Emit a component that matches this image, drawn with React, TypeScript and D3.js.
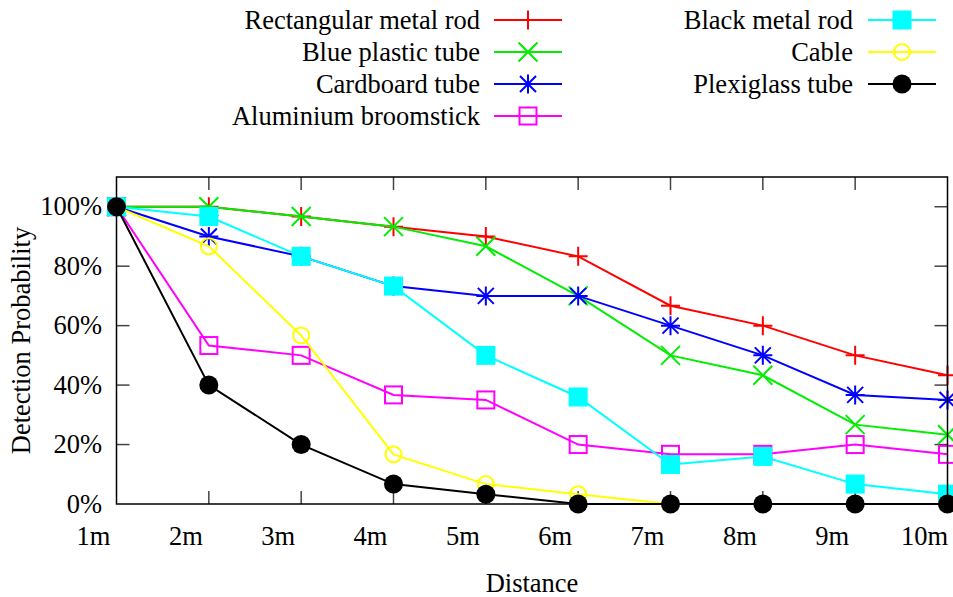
import React from "react";
import * as d3 from "d3";

// Distances (m) at which each object was tested
const distances = [1, 2, 3, 4, 5, 6, 7, 8, 9, 10];
const xTickLabels = ["1m", "2m", "3m", "4m", "5m", "6m", "7m", "8m", "9m", "10m"];
const yTicks = [0, 0.2, 0.4, 0.6, 0.8, 1.0];

// Detection probability per distance
const rectangularMetalRod = [1.0, 1.0, 0.967, 0.933, 0.9, 0.833, 0.667, 0.6, 0.5, 0.433];
const bluePlasticTube = [1.0, 1.0, 0.967, 0.933, 0.867, 0.7, 0.5, 0.433, 0.267, 0.233];
const cardboardTube = [1.0, 0.9, 0.833, 0.733, 0.7, 0.7, 0.6, 0.5, 0.367, 0.35];
const aluminiumBroomstick = [1.0, 0.533, 0.5, 0.367, 0.35, 0.2, 0.167, 0.167, 0.2, 0.167];
const blackMetalRod = [1.0, 0.967, 0.833, 0.733, 0.5, 0.36, 0.133, 0.16, 0.067, 0.033];
const cable = [1.0, 0.867, 0.567, 0.167, 0.067, 0.033, 0, 0, 0, 0];
const plexiglassTube = [1.0, 0.4, 0.2, 0.067, 0.033, 0, 0, 0, 0, 0];

type Marker = "plus" | "cross" | "star" | "openSquare" | "filledSquare" | "openCircle" | "filledCircle";

const seriesList: { name: string; color: string; marker: Marker; values: number[] }[] = [
  { name: "Rectangular metal rod", color: "#ff0000", marker: "plus", values: rectangularMetalRod },
  { name: "Blue plastic tube", color: "#00ee00", marker: "cross", values: bluePlasticTube },
  { name: "Cardboard tube", color: "#0000ff", marker: "star", values: cardboardTube },
  { name: "Aluminium broomstick", color: "#ff00ff", marker: "openSquare", values: aluminiumBroomstick },
  { name: "Black metal rod", color: "#00ffff", marker: "filledSquare", values: blackMetalRod },
  { name: "Cable", color: "#ffff00", marker: "openCircle", values: cable },
  { name: "Plexiglass tube", color: "#000000", marker: "filledCircle", values: plexiglassTube },
];

const W = 953;
const H = 597;
const plot = { left: 116.5, right: 947.5, top: 177, bottom: 504 };
const FONT = "'Liberation Serif', 'Times New Roman', serif";
const FS = 26.5;

function MarkerGlyph({ kind, x, y, color }: { kind: Marker; x: number; y: number; color: string }) {
  const sw = 2;
  const h = 9.5;
  switch (kind) {
    case "plus":
      return (
        <path d={`M${x - h},${y}H${x + h}M${x},${y - h}V${y + h}`} stroke={color} strokeWidth={sw} fill="none" />
      );
    case "cross": {
      const c = 9.5;
      return (
        <path
          d={`M${x - c},${y - c}L${x + c},${y + c}M${x - c},${y + c}L${x + c},${y - c}`}
          stroke={color}
          strokeWidth={sw}
          fill="none"
        />
      );
    }
    case "star": {
      const c = 8;
      return (
        <path
          d={`M${x - h},${y}H${x + h}M${x},${y - h}V${y + h}M${x - c},${y - c}L${x + c},${y + c}M${x - c},${y + c}L${x + c},${y - c}`}
          stroke={color}
          strokeWidth={sw}
          fill="none"
        />
      );
    }
    case "openSquare":
      return <rect x={x - 8.5} y={y - 8.5} width={17} height={17} stroke={color} strokeWidth={sw} fill="none" />;
    case "filledSquare":
      return <rect x={x - 9.5} y={y - 9.5} width={19} height={19} fill={color} />;
    case "openCircle":
      return <circle cx={x} cy={y} r={8} stroke={color} strokeWidth={sw} fill="none" />;
    case "filledCircle":
      return <circle cx={x} cy={y} r={9.5} fill={color} />;
  }
}

export default function App() {
  const xScale = d3.scaleLinear().domain([1, 10]).range([plot.left, plot.right]);
  const yScale = d3.scaleLinear().domain([0, 1.1]).range([plot.bottom, plot.top]);
  const line = d3
    .line<number>()
    .x((_, i) => xScale(distances[i]))
    .y((v) => yScale(v));

  const tickLen = 13;
  const tickColor = "#444";

  // Legend layout: two columns, text right-aligned before the sample line
  const legendRows = [20, 52, 84, 116];
  const legendCols = [
    { textRight: 480, lineStart: 494, lineEnd: 562 },
    { textRight: 853, lineStart: 868, lineEnd: 936 },
  ];

  return (
    <svg
      width={W}
      height={H}
      style={{ position: "fixed", left: 0, top: 0, background: "#fff" }}
      fontFamily={FONT}
    >
      <rect width={W} height={H} fill="#fff" />

      {/* ticks: bottom/top on x, left/right on y */}
      {distances.slice(1, -1).map((d) => (
        <g key={`xt${d}`} stroke={tickColor} strokeWidth={1.5}>
          <line x1={xScale(d)} x2={xScale(d)} y1={plot.bottom} y2={plot.bottom - tickLen} />
          <line x1={xScale(d)} x2={xScale(d)} y1={plot.top} y2={plot.top + tickLen} />
        </g>
      ))}
      {yTicks.slice(1).map((t) => (
        <g key={`yt${t}`} stroke={tickColor} strokeWidth={1.5}>
          <line x1={plot.left} x2={plot.left + tickLen} y1={yScale(t)} y2={yScale(t)} />
          <line x1={plot.right} x2={plot.right - tickLen} y1={yScale(t)} y2={yScale(t)} />
        </g>
      ))}

      {/* tick labels */}
      {distances.map((d, i) => (
        <text key={`xl${d}`} x={xScale(d) - 23} y={545} fontSize={FS} textAnchor="middle" fill="#000">
          {xTickLabels[i]}
        </text>
      ))}
      {yTicks.map((t) => (
        <text key={`yl${t}`} x={102} y={yScale(t)} dy="0.33em" fontSize={FS} textAnchor="end" fill="#000">
          {d3.format(".0%")(t)}
        </text>
      ))}

      {/* axis titles */}
      <text x={532} y={592} fontSize={FS} textAnchor="middle" fill="#000">
        Distance
      </text>
      <text
        transform={`translate(30,${(plot.top + plot.bottom) / 2}) rotate(-90)`}
        fontSize={FS}
        textAnchor="middle"
        fill="#000"
      >
        Detection Probability
      </text>

      {/* series */}
      {seriesList.map((s) => (
        <g key={s.name}>
          <path d={line(s.values) ?? ""} stroke={s.color} strokeWidth={2} fill="none" />
          {s.values.map((v, i) => (
            <MarkerGlyph key={i} kind={s.marker} x={xScale(distances[i])} y={yScale(v)} color={s.color} />
          ))}
        </g>
      ))}

      {/* plot border */}
      <rect
        x={plot.left}
        y={plot.top}
        width={plot.right - plot.left}
        height={plot.bottom - plot.top}
        fill="none"
        stroke="#000"
        strokeWidth={1.5}
      />

      {/* legend */}
      {seriesList.map((s, i) => {
        const col = legendCols[i < 4 ? 0 : 1];
        const y = legendRows[i < 4 ? i : i - 4];
        const mid = (col.lineStart + col.lineEnd) / 2;
        return (
          <g key={`lg${s.name}`}>
            <text x={col.textRight} y={y} dy="0.33em" fontSize={FS} textAnchor="end" fill="#000">
              {s.name}
            </text>
            <line x1={col.lineStart} x2={col.lineEnd} y1={y} y2={y} stroke={s.color} strokeWidth={2} />
            <MarkerGlyph kind={s.marker} x={mid} y={y} color={s.color} />
          </g>
        );
      })}
    </svg>
  );
}
